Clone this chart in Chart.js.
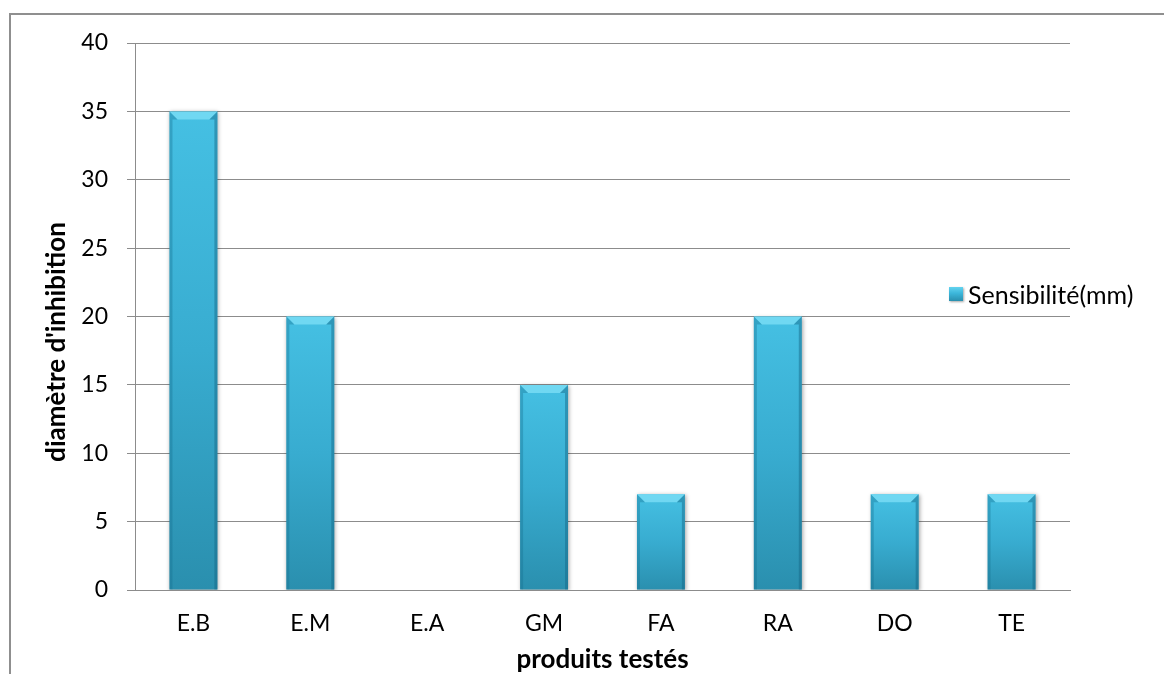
<!DOCTYPE html>
<html><head><meta charset="utf-8">
<script src="https://cdn.jsdelivr.net/npm/chart.js@4"></script>
<style>
html,body{margin:0;padding:0;background:#fff;}
#wrap{position:relative;width:1164px;height:674px;overflow:hidden;}
#frame{position:absolute;left:9px;top:13px;width:1160px;height:700px;border-top:2px solid #8f8f8f;border-left:2px solid #8f8f8f;box-sizing:border-box;}
#c{position:absolute;left:0;top:0;}
#legend{position:absolute;left:949px;top:278px;height:32px;font-family:Lato,sans-serif;font-size:25px;color:#000;display:flex;align-items:center;white-space:nowrap;}
#legend .sw{width:14px;height:14px;margin-right:5px;background:linear-gradient(to bottom,#63d3ef 0%,#3cb6da 45%,#2a8fae 100%);box-shadow:1px 1px 2px rgba(0,0,0,0.35);}
</style></head>
<body>
<div id="wrap">
  <div id="frame"></div>
  <canvas id="c" width="1164" height="674"></canvas>
  <div id="legend"><span class="sw"></span><span>Sensibilité(mm)</span></div>
</div>
<script>
const categories = ["E.B", "E.M", "E.A", "GM", "FA", "RA", "DO", "TE"];
const sensibilite = [35, 20, 0, 15, 7, 20, 7, 7];
const seriesName = "Sensibilité(mm)";
const yTitle = "diamètre d'inhibition";
const xTitle = "produits testés";
const yMin = 0, yMax = 40, yStep = 5;

Chart.defaults.font.family = "Lato, sans-serif";
Chart.defaults.color = "#000";

const GRID = "#8c8c8c";

const barFx = {
  id: "barFx",
  beforeDatasetsDraw(chart) {
    const c = chart.ctx;
    c.save();
    c.shadowColor = "rgba(0,0,0,0.35)";
    c.shadowBlur = 4;
    c.shadowOffsetX = 1;
    c.shadowOffsetY = 1;
  },
  afterDatasetsDraw(chart) {
    const c = chart.ctx;
    c.restore();
    const meta = chart.getDatasetMeta(0);
    meta.data.forEach(el => {
      const h = el.base - el.y;
      if (h < 2) return;
      const l = el.x - el.width / 2, r = el.x + el.width / 2, t = el.y, b = el.base;
      const bv = Math.min(8, h / 2);
      c.save();
      c.beginPath();
      c.moveTo(l, t); c.lineTo(r, t); c.lineTo(r - bv, t + bv); c.lineTo(l + bv, t + bv); c.closePath();
      c.fillStyle = "rgba(120,220,245,0.85)";
      c.fill();
      c.beginPath();
      c.moveTo(l, t); c.lineTo(l + bv, t + bv); c.lineTo(l + 3, t + bv); c.lineTo(l + 3, b); c.lineTo(l, b); c.closePath();
      c.fillStyle = "rgba(20,110,140,0.35)";
      c.fill();
      c.beginPath();
      c.moveTo(r, t); c.lineTo(r - bv, t + bv); c.lineTo(r - 3, t + bv); c.lineTo(r - 3, b); c.lineTo(r, b); c.closePath();
      c.fillStyle = "rgba(20,100,130,0.45)";
      c.fill();
      c.restore();
    });
  }
};

// y-axis title, centred on the whole chart frame height (as in the reference)
const yTitlePlugin = {
  id: "yTitlePlugin",
  afterDraw(chart) {
    const c = chart.ctx;
    c.save();
    c.translate(57, 342);
    c.rotate(-Math.PI / 2);
    c.font = "bold 26px Lato, sans-serif";
    c.fillStyle = "#000";
    c.textAlign = "center";
    c.textBaseline = "middle";
    c.fillText(yTitle, 0, 0);
    c.restore();
  }
};

new Chart(document.getElementById("c"), {
  type: "bar",
  data: {
    labels: categories,
    datasets: [{
      label: seriesName,
      data: sensibilite,
      categoryPercentage: 1,
      barPercentage: 0.41,
      borderWidth: 0,
      backgroundColor: (ctx) => {
        const chart = ctx.chart;
        if (!chart.chartArea || ctx.type !== "data") return "#3ab4d8";
        const ys = chart.scales.y;
        const top = ys.getPixelForValue(ctx.raw), base = ys.getPixelForValue(0);
        if (!(base - top > 1)) return "#3ab4d8";
        const g = chart.ctx.createLinearGradient(0, top, 0, base);
        g.addColorStop(0, "#45c0e3");
        g.addColorStop(0.5, "#38acd0");
        g.addColorStop(1, "#2a8fae");
        return g;
      }
    }]
  },
  options: {
    responsive: false,
    animation: false,
    layout: { padding: { left: 0, top: 43, right: 94, bottom: 0 } },
    plugins: { legend: { display: false }, tooltip: { enabled: false } },
    scales: {
      x: {
        grid: { display: false, drawTicks: false },
        border: { display: true, color: GRID, width: 1 },
        ticks: { font: { size: 23 }, padding: 20, color: "#000" },
        title: { display: true, text: xTitle, font: { size: 26, weight: "bold" }, padding: { top: 0, bottom: -1 }, color: "#000" },
        afterFit(s) { s.height = 84; }
      },
      y: {
        min: yMin, max: yMax,
        ticks: { stepSize: yStep, font: { size: 23 }, padding: 19, color: "#000" },
        grid: { color: GRID, lineWidth: 1, tickLength: 8, drawTicks: true },
        border: { display: true, color: GRID, width: 1 },
        title: { display: false, text: yTitle },
        afterFit(s) { s.width = 135; }
      }
    }
  },
  plugins: [barFx, yTitlePlugin]
});
</script>
</body></html>
